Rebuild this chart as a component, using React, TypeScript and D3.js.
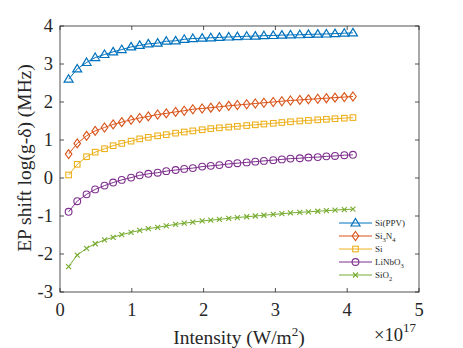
import React, { useEffect, useRef } from 'react';
import * as d3 from 'd3';

// intensity (x 10^17 W/m^2)
const intensity = [
  0.12, 0.24, 0.37, 0.49, 0.62, 0.74, 0.86, 0.99, 1.11, 1.23, 1.36,
  1.48, 1.61, 1.73, 1.85, 1.98, 2.1, 2.22, 2.35, 2.47, 2.6, 2.72,
  2.84, 2.97, 3.09, 3.21, 3.34, 3.46, 3.59, 3.71, 3.83, 3.96, 4.08,
];

const siPPV = [
  2.6, 2.87, 3.04, 3.17, 3.25, 3.32, 3.38, 3.45, 3.49, 3.53, 3.55,
  3.6, 3.61, 3.65, 3.67, 3.68, 3.69, 3.7, 3.71, 3.72, 3.73, 3.735,
  3.745, 3.75, 3.76, 3.765, 3.77, 3.78, 3.785, 3.79, 3.8, 3.81, 3.82,
];
const si3n4 = [
  0.63, 0.91, 1.11, 1.24, 1.33, 1.41, 1.47, 1.53, 1.58, 1.62, 1.67,
  1.7, 1.74, 1.77, 1.81, 1.83, 1.85, 1.875, 1.9, 1.92, 1.94, 1.96,
  1.98, 2.0, 2.02, 2.04, 2.055, 2.07, 2.085, 2.1, 2.115, 2.13, 2.145,
];
const si = [
  0.08, 0.36, 0.56, 0.68, 0.77, 0.85, 0.91, 0.97, 1.03, 1.07, 1.11,
  1.14, 1.18, 1.21, 1.24, 1.27, 1.3, 1.32, 1.34, 1.36, 1.38, 1.4,
  1.42, 1.44, 1.46, 1.48, 1.5, 1.515, 1.53, 1.545, 1.56, 1.575, 1.59,
];
const linbo3 = [
  -0.89, -0.61, -0.43, -0.3, -0.2, -0.12, -0.05, 0.01, 0.07, 0.11, 0.14,
  0.18, 0.21, 0.24, 0.26, 0.3, 0.32, 0.34, 0.37, 0.39, 0.41, 0.43,
  0.45, 0.47, 0.49, 0.51, 0.52, 0.54, 0.55, 0.57, 0.58, 0.6, 0.61,
];
const sio2 = [
  -2.33, -2.03, -1.85, -1.73, -1.63, -1.56, -1.49, -1.43, -1.38, -1.33, -1.3,
  -1.26, -1.22, -1.19, -1.16, -1.13, -1.11, -1.09, -1.06, -1.04, -1.02, -1.0,
  -0.98, -0.96, -0.94, -0.92, -0.905, -0.89, -0.875, -0.86, -0.845, -0.83, -0.82,
];

// legend labels, split into [text, subscript] pieces
const seriesNames = [
  [['Si(PPV)', '']],
  [['Si', '3'], ['N', '4']],
  [['Si', '']],
  [['LiNbO', '3']],
  [['SiO', '2']],
];
const seriesColors = ['#0072BD', '#D95319', '#EDB120', '#7E2F8E', '#77AC30'];
const seriesMarkers = ['triangle', 'diamond', 'square', 'circle', 'cross'];
const xTicks = [0, 1, 2, 3, 4, 5];
const yTicks = [-3, -2, -1, 0, 1, 2, 3, 4];

const W = 463;
const H = 348;
const FONT = "'Liberation Serif', 'DejaVu Serif', serif";
const AXIS = '#262626';

function drawMarker(g: any, kind: string, x: number, y: number, color: string) {
  if (kind === 'triangle') {
    g.append('path')
      .attr('d', `M${x},${y - 4.5}L${x + 4.5},${y + 3}L${x - 4.5},${y + 3}Z`)
      .attr('fill', 'none').attr('stroke', color).attr('stroke-width', 1.2);
  } else if (kind === 'diamond') {
    g.append('path')
      .attr('d', `M${x},${y - 4.5}L${x + 3.3},${y}L${x},${y + 4.5}L${x - 3.3},${y}Z`)
      .attr('fill', 'none').attr('stroke', color).attr('stroke-width', 1.1);
  } else if (kind === 'square') {
    g.append('rect')
      .attr('x', x - 2.8).attr('y', y - 2.8).attr('width', 5.6).attr('height', 5.6)
      .attr('fill', 'none').attr('stroke', color).attr('stroke-width', 1.1);
  } else if (kind === 'circle') {
    g.append('circle')
      .attr('cx', x).attr('cy', y).attr('r', 3.4)
      .attr('fill', 'none').attr('stroke', color).attr('stroke-width', 1.1);
  } else {
    g.append('path')
      .attr('d', `M${x - 2.5},${y - 2.5}L${x + 2.5},${y + 2.5}M${x - 2.5},${y + 2.5}L${x + 2.5},${y - 2.5}`)
      .attr('fill', 'none').attr('stroke', color).attr('stroke-width', 1.1);
  }
}

export default function App() {
  const svgRef = useRef<SVGSVGElement>(null);

  useEffect(() => {
    const svg = d3.select(svgRef.current);
    svg.selectAll('*').remove();

    const left = 60, right = 419, top = 26, bottom = 292;
    const x = d3.scaleLinear().domain([0, 5]).range([left, right]);
    const y = d3.scaleLinear().domain([-3, 4]).range([bottom, top]);

    const allSeries = [siPPV, si3n4, si, linbo3, sio2];

    // data
    const line = d3.line<number>()
      .x((_, i) => x(intensity[i]))
      .y(d => y(d));

    allSeries.forEach((vals, s) => {
      const g = svg.append('g');
      g.append('path')
        .attr('d', line(vals))
        .attr('fill', 'none')
        .attr('stroke', seriesColors[s])
        .attr('stroke-width', 1);
      vals.forEach((v, i) => drawMarker(g, seriesMarkers[s], x(intensity[i]), y(v), seriesColors[s]));
    });

    // box + ticks
    const ax = svg.append('g').attr('stroke', AXIS).attr('stroke-width', 0.8);
    ax.append('rect')
      .attr('x', left).attr('y', top)
      .attr('width', right - left).attr('height', bottom - top)
      .attr('fill', 'none');
    xTicks.forEach(t => {
      ax.append('line').attr('x1', x(t)).attr('x2', x(t)).attr('y1', bottom).attr('y2', bottom - 4);
      ax.append('line').attr('x1', x(t)).attr('x2', x(t)).attr('y1', top).attr('y2', top + 4);
    });
    yTicks.forEach(t => {
      ax.append('line').attr('x1', left).attr('x2', left + 4).attr('y1', y(t)).attr('y2', y(t));
      ax.append('line').attr('x1', right).attr('x2', right - 4).attr('y1', y(t)).attr('y2', y(t));
    });

    // tick labels
    const txt = svg.append('g').style('font-family', FONT).attr('fill', AXIS);
    xTicks.forEach(t => {
      txt.append('text')
        .attr('x', x(t)).attr('y', 316)
        .attr('text-anchor', 'middle')
        .attr('font-size', 18.5)
        .text(String(t));
    });
    yTicks.forEach(t => {
      txt.append('text')
        .attr('x', 53).attr('y', y(t)).attr('dy', '0.33em')
        .attr('text-anchor', 'end')
        .attr('font-size', 18.5)
        .text(String(t));
    });

    // axis labels
    const xl = txt.append('text')
      .attr('x', 239).attr('y', 344)
      .attr('text-anchor', 'middle')
      .attr('font-size', 19.5);
    xl.append('tspan').text('Intensity (W/m');
    xl.append('tspan').attr('font-size', 13).attr('dy', -8).text('2');
    xl.append('tspan').attr('dy', 8).text(')');

    const mult = txt.append('text')
      .attr('x', 374).attr('y', 341)
      .attr('font-size', 18.5);
    mult.append('tspan').text('×10');
    mult.append('tspan').attr('font-size', 13).attr('dy', -9).text('17');

    txt.append('text')
      .attr('transform', `translate(31,158) rotate(-90)`)
      .attr('text-anchor', 'middle')
      .attr('font-size', 19.5)
      .text('EP shift log(g-δ) (MHz)');

    // legend
    const leg = svg.append('g');
    const rowY = d3.scaleLinear().domain([0, 4]).range([223, 275]);
    seriesNames.forEach((pieces, s) => {
      const ly = rowY(s);
      leg.append('line')
        .attr('x1', 339).attr('x2', 372).attr('y1', ly).attr('y2', ly)
        .attr('stroke', seriesColors[s]).attr('stroke-width', 1);
      drawMarker(leg, seriesMarkers[s], 355.5, ly, seriesColors[s]);
      const t = leg.append('text')
        .attr('x', 375).attr('y', ly).attr('dy', '0.33em')
        .style('font-family', FONT).attr('font-size', 9).attr('fill', AXIS);
      let shifted = false;
      pieces.forEach(([main, sub]) => {
        const m = t.append('tspan').text(main);
        if (shifted) m.attr('dy', -3);
        shifted = false;
        if (sub) {
          t.append('tspan').attr('font-size', 6.5).attr('dy', 3).text(sub);
          shifted = true;
        }
      });
    });
  }, []);

  return (
    <svg
      ref={svgRef}
      width={W}
      height={H}
      style={{ position: 'absolute', left: 0, top: 0, background: '#fff' }}
    />
  );
}
